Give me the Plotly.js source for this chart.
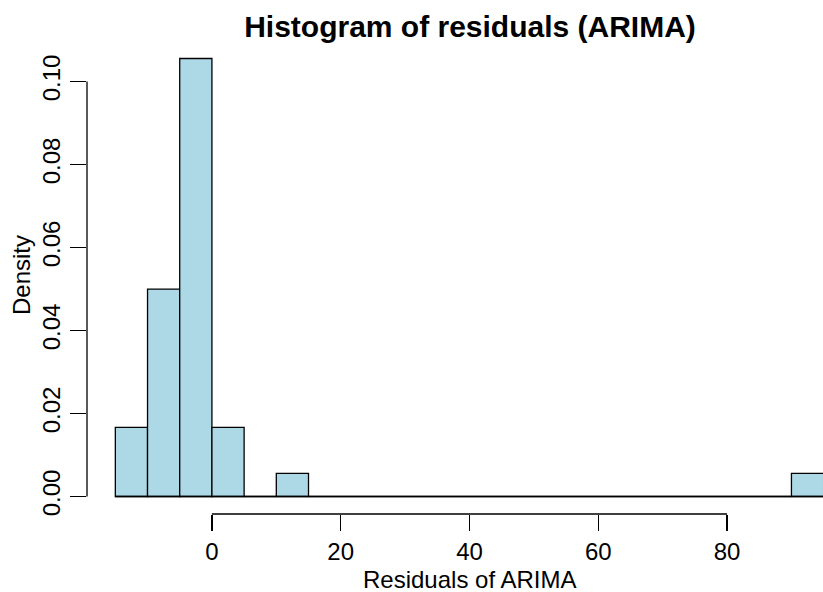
<!DOCTYPE html>
<html>
<head>
<meta charset="utf-8">
<script src="https://cdn.plot.ly/plotly-3.0.1.min.js"></script>
<style>html,body{margin:0;padding:0;background:#fff;}#chart{width:823px;height:592px;}</style>
</head>
<body>
<div id="chart"></div>
<script>
// Histogram bin edges (width 5) and density values
const binEdges = [-15,-10,-5,0,5,10,15,20,25,30,35,40,45,50,55,60,65,70,75,80,85,90,95];
const density = [0.01667,0.05,0.10556,0.01667,0,0.00556,
                 0,0,0,0,0,0,0,0,0,0,0,0,0,0,0,
                 0.00556];
const xTickVals = [0,20,40,60,80];
const yTickVals = [0,0.02,0.04,0.06,0.08,0.10];
const titleText = "Histogram of residuals (ARIMA)";
const xTitle = "Residuals of ARIMA";
const yTitle = "Density";

const centers = density.map((d,i)=> (binEdges[i]+binEdges[i+1])/2);
const widths = density.map((d,i)=> binEdges[i+1]-binEdges[i]);
const FONT = "Liberation Sans, Arial, sans-serif";

const bars = {
  type: 'bar', x: centers, y: density, width: widths,
  marker: {color: '#ADD8E6', line: {color: '#000', width: 1.3}},
  hoverinfo: 'skip', showlegend: false
};
const baseline = {
  type: 'scatter', mode: 'lines',
  x: [binEdges[0], binEdges[binEdges.length-1]], y: [0,0],
  line: {color: '#000', width: 1.3}, hoverinfo: 'skip', showlegend: false
};

const layout = {
  width: 823, height: 592,
  margin: {l: 87, r: 0, t: 41, b: 78, pad: 0},
  paper_bgcolor: '#fff', plot_bgcolor: '#fff',
  bargap: 0,
  font: {family: FONT, color: '#000', size: 24},
  title: {text: '<b>' + titleText + '</b>', font: {family: FONT, size: 30, color: '#000'},
          xref: 'container', x: 470/823, xanchor: 'center',
          yref: 'container', y: 1 - 26/592, yanchor: 'middle'},
  xaxis: {range: [-19.4, 94.9], tickvals: xTickVals, ticks: 'outside', ticklen: 16,
          tickwidth: 1.3, tickcolor: '#000', showgrid: false, zeroline: false, showline: false,
          tickfont: {family: FONT, size: 24, color: '#000'}, fixedrange: true},
  yaxis: {range: [-0.00422, 0.10978], tickvals: yTickVals, tickformat: '.2f', ticks: 'outside', ticklen: 16,
          tickwidth: 1.3, tickcolor: '#000', showgrid: false, zeroline: false, showline: false,
          tickangle: -90, tickfont: {family: FONT, size: 24, color: '#000'}, fixedrange: true},
  shapes: [
    {type: 'line', xref: 'paper', yref: 'y', x0: 0, x1: 0, y0: yTickVals[0], y1: yTickVals[yTickVals.length-1],
     line: {color: '#000', width: 1.3}},
    {type: 'line', xref: 'x', yref: 'paper', x0: xTickVals[0], x1: xTickVals[xTickVals.length-1], y0: 0, y1: 0,
     line: {color: '#000', width: 1.3}}
  ],
  annotations: [
    {text: xTitle, xref: 'paper', yref: 'paper', x: (469.5-87)/736, y: (514-579)/473,
     xanchor: 'center', yanchor: 'middle', showarrow: false, font: {family: FONT, size: 24, color: '#000'}},
    {text: yTitle, xref: 'paper', yref: 'paper', x: (21-87)/736, y: (514-275)/473, textangle: -90,
     xanchor: 'center', yanchor: 'middle', showarrow: false, font: {family: FONT, size: 24, color: '#000'}}
  ]
};
Plotly.newPlot('chart', [baseline, bars], layout, {displayModeBar: false, staticPlot: true});
</script>
</body>
</html>
